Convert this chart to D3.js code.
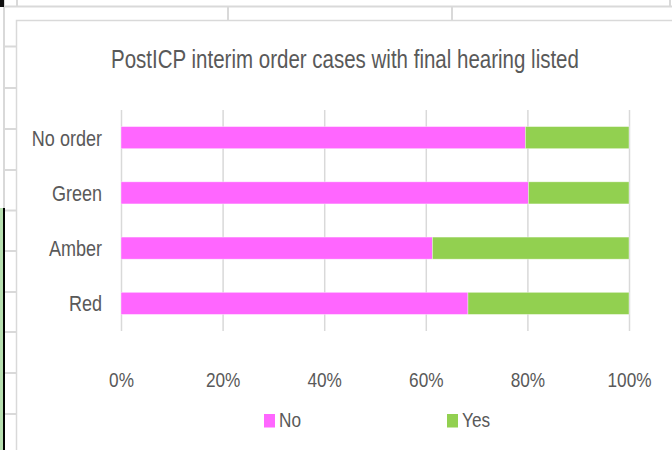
<!DOCTYPE html>
<meta charset="utf-8">
<script src="https://d3js.org/d3.v7.min.js"></script>
<style>
  body { margin: 0; background: #fff; }
  text { font-family: 'Liberation Sans', Arial, sans-serif; fill: #595959; }
</style>
<body>
<div id="my_dataviz"></div>
<script>

var categories = ["No order", "Green", "Amber", "Red"];
var noValues = [0.796, 0.802, 0.613, 0.683];
var yesValues = [0.204, 0.198, 0.387, 0.317];
var seriesNames = ["No", "Yes"];
var seriesColors = ["#ff66ff", "#92d050"];
var tickValues = [0, 0.2, 0.4, 0.6, 0.8, 1];

var W = 672, H = 450;
var plot = {left: 121, right: 629, top: 110, bottom: 331};

// no narrow font installed, so squeeze text horizontally around its anchor
function condense(sel, s) {
  sel.each(function() {
    var ax = +this.getAttribute("x") || 0;
    d3.select(this).attr("transform", "translate(" + (ax * (1 - s)) + ",0) scale(" + s + ",1)");
  });
}

var svg = d3.select("#my_dataviz")
  .append("svg")
    .attr("width", W)
    .attr("height", H);

// spreadsheet cells behind the chart
var cell = svg.append("g").attr("stroke", "#d9d9d9").attr("stroke-width", 2);
cell.append("line").attr("x1", 4).attr("x2", 4).attr("y1", 0).attr("y2", 208);
cell.append("line").attr("x1", 4).attr("x2", W).attr("y1", 6.5).attr("y2", 6.5);
cell.append("line").attr("x1", 17).attr("x2", 17).attr("y1", 0).attr("y2", 6);
cell.append("line").attr("x1", 670).attr("x2", 670).attr("y1", 0).attr("y2", 6);
[228, 452].forEach(function(x) {
  cell.append("line").attr("x1", x).attr("x2", x).attr("y1", 6).attr("y2", 20);
});
[46.5, 88, 129, 170, 210.5, 251, 292, 332, 373, 414].forEach(function(y) {
  cell.append("line").attr("x1", 4).attr("x2", 16).attr("y1", y).attr("y2", y);
});
svg.append("rect").attr("x", 0).attr("y", 0).attr("width", 4).attr("height", 7).attr("fill", "#111");
svg.append("rect").attr("x", 0).attr("y", 208).attr("width", 3).attr("height", H - 208).attr("fill", "#b7dfb0");
svg.append("rect").attr("x", 3).attr("y", 208).attr("width", 2).attr("height", H - 208).attr("fill", "#000");

// chart area
svg.append("rect")
  .attr("x", 16.5).attr("y", 20.5)
  .attr("width", W + 10).attr("height", H + 10)
  .attr("fill", "#fff")
  .attr("stroke", "#d9d9d9")
  .attr("stroke-width", 1.5);

svg.append("text")
  .attr("x", 345)
  .attr("y", 68)
  .attr("text-anchor", "middle")
  .style("font-size", "25px")
  .text("PostICP interim order cases with final hearing listed")
  .call(condense, 0.82);

var x = d3.scaleLinear()
  .domain([0, 1])
  .range([plot.left, plot.right]);

var y = d3.scaleBand()
  .domain(categories)
  .range([plot.top, plot.bottom])
  .paddingInner(0.6)
  .paddingOuter(0.3);

// gridlines + tick labels
var xAxis = svg.append("g")
  .attr("transform", "translate(0," + plot.bottom + ")")
  .call(d3.axisBottom(x)
    .tickValues(tickValues)
    .tickSize(-(plot.bottom - plot.top))
    .tickPadding(41)
    .tickFormat(d3.format(".0%")));
xAxis.select(".domain").remove();
xAxis.selectAll("line").attr("stroke", "#d9d9d9").attr("stroke-width", 1.5);
xAxis.selectAll("text")
  .attr("fill", "#595959")
  .style("font-size", "21px")
  .call(condense, 0.82);

var yAxis = svg.append("g")
  .attr("transform", "translate(" + plot.left + ",0)")
  .call(d3.axisLeft(y).tickSize(0).tickPadding(19));
yAxis.select(".domain").remove();
yAxis.selectAll("text")
  .attr("fill", "#595959")
  .attr("dy", "0.36em")
  .style("font-size", "22px")
  .call(condense, 0.82);

// stacked bars
var rows = categories.map(function(c, i) { return {cat: c, No: noValues[i], Yes: yesValues[i]}; });
var stacked = d3.stack().keys(seriesNames)(rows);

svg.append("g")
  .selectAll("g")
  .data(stacked)
  .enter()
  .append("g")
    .attr("fill", function(d, i) { return seriesColors[i]; })
  .selectAll("rect")
  .data(function(d) { return d; })
  .enter()
  .append("rect")
    .attr("x", function(d) { return x(d[0]); })
    .attr("width", function(d) { return x(d[1]) - x(d[0]); })
    .attr("y", function(d) { return y(d.data.cat); })
    .attr("height", y.bandwidth())
    .attr("stroke", "#fff")
    .attr("stroke-opacity", 0.5)
    .attr("stroke-width", 0.75);

// legend
var legendX = [264, 447];
var legend = svg.append("g")
  .selectAll("g")
  .data(seriesNames)
  .enter()
  .append("g")
    .attr("transform", function(d, i) { return "translate(" + legendX[i] + ",414)"; });
legend.append("rect")
  .attr("width", 11)
  .attr("height", 13.5)
  .attr("fill", function(d, i) { return seriesColors[i]; });
legend.append("text")
  .attr("x", 15)
  .attr("y", 13)
  .style("font-size", "21px")
  .text(function(d) { return d; })
  .call(condense, 0.82);

</script>
</body>
